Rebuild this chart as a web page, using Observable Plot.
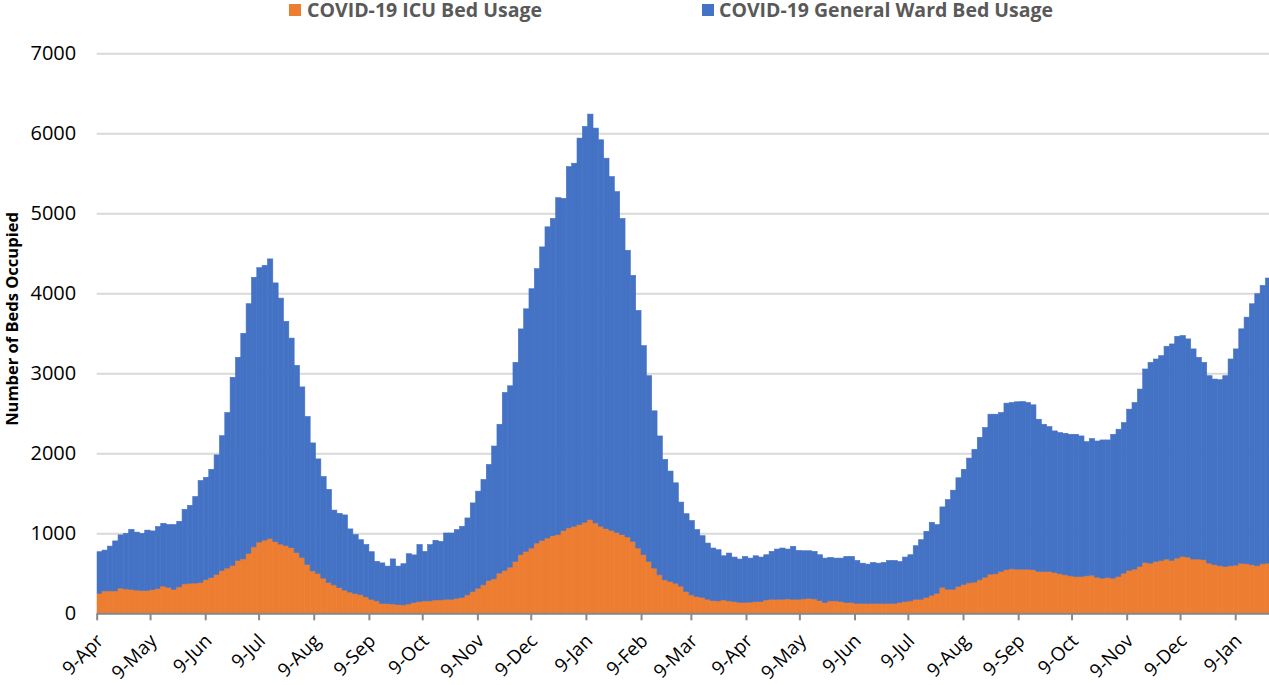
<!DOCTYPE html>
<html>
<head>
<meta charset="utf-8">
<script src="https://cdn.jsdelivr.net/npm/d3@7"></script>
<script src="https://cdn.jsdelivr.net/npm/@observablehq/plot@0.6"></script>
<style>
  html, body { margin: 0; padding: 0; background: #fff; }
  body { width: 1269px; height: 685px; overflow: hidden; font-family: "Open Sans", sans-serif; position: relative; }
  svg { display: block; }
  #legend { position: absolute; left: 0; top: 0; z-index: 2; }
  #chart { padding-top: 20px; }
</style>
</head>
<body>
<div id="legend"></div>
<div id="chart"></div>
<script>
// ---- data (one value per 3-day period starting 9-Apr-2020) ----
const startDate = "2020-04-09";
const binDays = 3;
const seriesNames = ["COVID-19 ICU Bed Usage", "COVID-19 General Ward Bed Usage"];
const seriesColors = ["#ED7D31", "#4472C4"];

const icuBeds = [
  250,280,280,280,315,305,300,290,285,285, 295,310,340,325,300,330,368,376,378,385,
  420,445,485,535,565,600,660,680,750,830, 890,915,935,895,865,845,820,760,700,610,
  530,500,440,385,355,320,290,265,245,232, 205,175,155,125,120,117,108,105,117,134,
  146,155,155,167,167,176,176,188,197,230, 272,314,356,410,431,502,535,577,648,732,
  774,816,878,912,941,970,983,1033,1067,1088, 1108,1138,1171,1129,1088,1058,1037,1012,983,954,
  900,816,732,648,565,481,418,397,376,340, 272,230,209,200,176,159,155,167,155,146,
  138,138,140,146,146,167,176,176,176,180, 176,176,180,188,180,159,134,155,155,146,
  134,134,125,125,125,125,125,125,125,125, 134,146,155,176,176,197,226,251,326,301,
  301,335,360,380,390,418,452,489,494,523, 544,556,552,552,552,544,523,523,523,510,
  494,481,468,460,460,468,477,452,439,448, 439,460,502,535,552,586,636,627,648,657,
  678,661,690,711,703,678,678,669,627,607, 594,586,594,602,627,619,607,594,619,627
];
const wardBeds = [
  520,510,560,625,665,695,750,725,715,755, 735,775,785,785,810,820,932,974,1082,1275,
  1280,1355,1495,1685,1945,2350,2540,2820,3120,3370, 3430,3435,3495,3235,3075,2805,2620,2340,2130,1850,
  1600,1430,1270,1165,935,930,940,790,740,688, 655,595,495,505,470,563,482,515,628,596,
  714,619,703,745,733,828,828,858,891,962, 1108,1213,1317,1451,1660,1861,2226,2267,2489,2823,
  3032,3241,3430,3668,3890,3966,4212,4154,4517,4538, 4832,4948,5069,4936,4831,4631,4422,4259,3953,3584,
  3324,2970,2614,2322,1966,1736,1506,1381,1255,1050, 973,930,837,770,702,657,640,552,598,557,
  540,573,550,573,557,565,598,627,640,623, 661,610,602,594,594,573,556,544,535,544,
  577,577,536,502,490,511,502,511,536,536, 514,557,577,669,744,828,912,857,1004,1121,
  1238,1359,1440,1560,1660,1782,1870,2000,1995,1987, 2083,2079,2092,2096,2083,2062,1903,1840,1811,1770,
  1765,1769,1770,1778,1757,1678,1707,1702,1728,1719, 1799,1841,1882,2017,2083,2217,2418,2510,2531,2564,
  2660,2706,2773,2761,2727,2627,2522,2468,2343,2321, 2326,2384,2585,2703,2929,3083,3262,3401,3480,3564
];
const xTickDates = [
  "2020-04-09","2020-05-09","2020-06-09","2020-07-09","2020-08-09","2020-09-09","2020-10-09",
  "2020-11-09","2020-12-09","2021-01-09","2021-02-09","2021-03-09","2021-04-09","2021-05-09",
  "2021-06-09","2021-07-09","2021-08-09","2021-09-09","2021-10-09","2021-11-09","2021-12-09","2022-01-09"
];
const yTicks = [0, 1000, 2000, 3000, 4000, 5000, 6000, 7000];
const yTitle = "Number of Beds Occupied";

// ---- build table ----
const DAY = 864e5;
const t0 = new Date(startDate + "T00:00:00Z");
const rows = [];
icuBeds.forEach((v, i) => {
  const x1 = new Date(+t0 + i * binDays * DAY);
  const x2 = new Date(+x1 + binDays * DAY);
  rows.push({x1, x2, series: seriesNames[0], value: v});
  rows.push({x1, x2, series: seriesNames[1], value: wardBeds[i]});
});
const xEnd = new Date(+t0 + 659 * DAY);
const xTicks = xTickDates.map(s => new Date(s + "T00:00:00Z"));

// ---- legend ----
const legend = d3.select("#legend").append("svg").attr("width", 1269).attr("height", 26);
const legendItems = [
  {sx: 289, tx: 307, w: 235},
  {sx: 702, tx: 719, w: 334}
];
legendItems.forEach((it, k) => {
  legend.append("rect").attr("x", it.sx).attr("y", 4).attr("width", 12).attr("height", 12).attr("fill", seriesColors[k]);
  legend.append("text").attr("x", it.tx).attr("y", 17)
    .attr("font-family", "Open Sans").attr("font-weight", "bold").attr("font-size", 19)
    .attr("fill", "#595959").attr("textLength", it.w).attr("lengthAdjust", "spacingAndGlyphs")
    .text(seriesNames[k]);
});

// ---- chart ----
const chart = Plot.plot({
  width: 1269,
  height: 665,
  marginLeft: 96.7,
  marginRight: 0,
  marginTop: 33.3,
  marginBottom: 71.7,
  style: {fontFamily: "Open Sans", fontSize: "20px", color: "#000", background: "transparent"},
  x: {type: "utc", domain: [t0, xEnd]},
  y: {domain: [0, 7000]},
  color: {domain: seriesNames, range: seriesColors},
  marks: [
    Plot.gridY(yTicks, {stroke: "#d9d9d9", strokeOpacity: 1, strokeWidth: 2}),
    Plot.rectY(rows, {x1: "x1", x2: "x2", y: "value", fill: "series", stroke: "series", strokeWidth: 0.6, order: seriesNames, clip: true}),
    Plot.ruleY([0], {stroke: "#898989", strokeWidth: 2}),
    Plot.axisY({ticks: yTicks, tickFormat: d => String(d), tickSize: 0, tickPadding: 21, label: null, fontSize: 20}),
    // tick marks only
    Plot.axisX({ticks: xTicks, tickFormat: () => "", tickSize: 7, stroke: "#898989", strokeWidth: 2, label: null}),
    // rotated labels only
    Plot.axisX({ticks: xTicks, tickFormat: d3.utcFormat("%-d-%b"), tickRotate: -45, tickSize: 0, tickPadding: 4,
      dx: 3, dy: 20, label: null, fontSize: 19}),
    Plot.text([yTitle], {frameAnchor: "left", dx: 12 - 96.7, dy: -14.8, rotate: -90, textAnchor: "middle", fontWeight: "bold", fontSize: 16.5, fill: "#000"})
  ]
});
document.getElementById("chart").appendChild(chart);
</script>
</body>
</html>
